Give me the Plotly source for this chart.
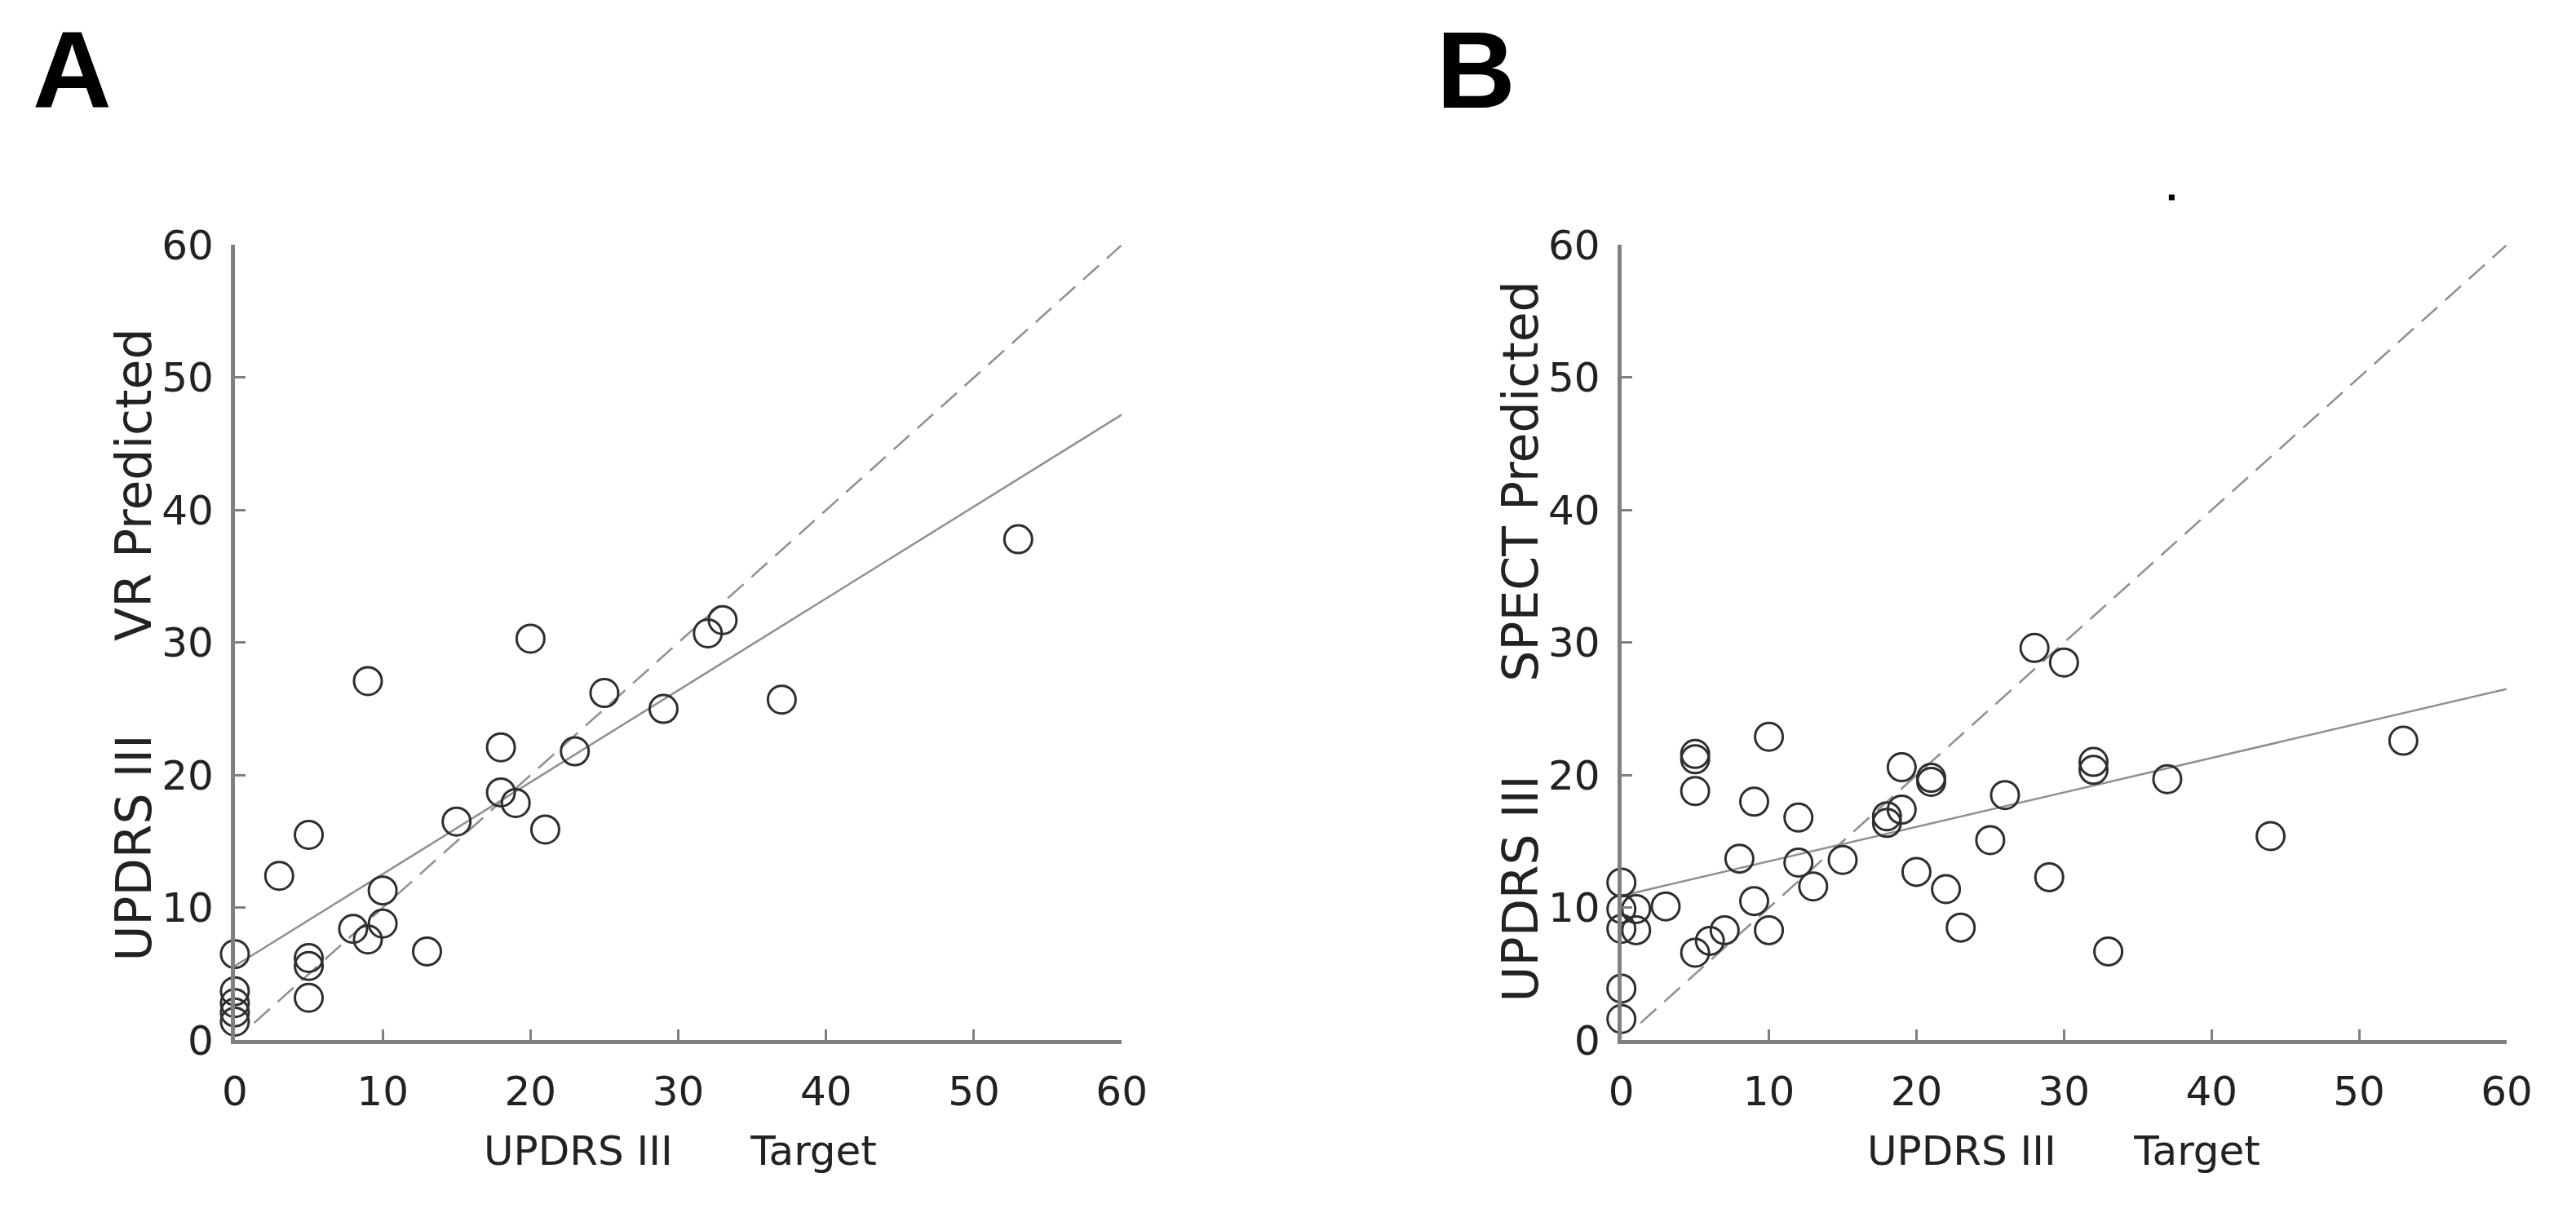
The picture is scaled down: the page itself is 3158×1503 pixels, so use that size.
import plotly.graph_objects as go

# ---------------- data ----------------
# Panel A: UPDRS III target vs VR predicted
a_target = [0, 0, 0, 0, 0, 3, 5, 5, 5, 5, 8, 9, 9, 10, 10, 13, 15, 18, 18, 19,
            20, 21, 23, 25, 29, 32, 33, 37, 53]
a_pred = [6.5, 3.7, 2.8, 2.1, 1.4, 12.4, 15.5, 6.2, 5.6, 3.2, 8.4, 7.6, 27.1, 8.8, 11.3,
          6.7, 16.5, 22.1, 18.7, 17.9, 30.3, 15.9, 21.8, 26.2, 25.0, 30.7, 31.7, 25.7, 37.8]

# Panel B: UPDRS III target vs SPECT predicted
b_target = [0, 0, 0, 0, 0, 1, 1, 3, 5, 5, 5, 5, 6, 7, 8, 9, 9, 10, 10, 12, 12, 13,
            15, 18, 18, 19, 19, 20, 21, 21, 22, 23, 25, 26, 28, 29, 30, 32, 32, 33,
            37, 44, 53]
b_pred = [11.9, 9.9, 8.4, 3.9, 1.6, 9.9, 8.3, 10.1, 21.6, 21.2, 18.8, 6.6, 7.5, 8.3,
          13.7, 18.0, 10.5, 22.9, 8.3, 16.8, 13.4, 11.6, 13.6, 16.9, 16.4, 17.4, 20.6,
          12.7, 19.8, 19.5, 11.4, 8.5, 15.1, 18.5, 29.6, 12.3, 28.5, 21.0, 20.4, 6.7,
          19.7, 15.4, 22.6]

# regression (solid) and identity (dashed) lines
fit_x = [0, 60]
fit_a_y = [5.6, 47.2]
fit_b_y = [10.9, 26.5]
ident_x = [1.3, 60]
ident_y = [1.3, 60]

# stray dot printed above panel B (in panel B data units)
dot_x = [37.3]
dot_y = [63.6]

ticks = [0, 10, 20, 30, 40, 50, 60]
tick_text = ["0", "10", "20", "30", "40", "50", "60"]
panel_labels = ["A", "B"]
x_title = "UPDRS III\u00a0\u00a0\u00a0\u00a0\u00a0\u00a0Target"
y_titles = ["UPDRS III\u00a0\u00a0\u00a0\u00a0\u00a0\u00a0VR Predicted",
            "UPDRS III\u00a0\u00a0\u00a0\u00a0\u00a0\u00a0SPECT Predicted"]

# ---------------- style ----------------
W, H = 3158, 1503
FONT = "DejaVu Sans"
AX_COL = "#808080"
MK_COL = "#2e2e2e"
TXT_COL = "#222222"
LINE_COL = "#8f8f8f"

PLOT_BOTTOM_PX, PLOT_TOP_PX = 1289, 275

fig = go.Figure()

panels = [
    (a_target, a_pred, fit_a_y, "x", "y"),
    (b_target, b_pred, fit_b_y, "x2", "y2"),
]
for tx, py, fy, xa, ya in panels:
    fig.add_trace(go.Scatter(x=ident_x, y=ident_y, xaxis=xa, yaxis=ya, mode="lines",
                             line=dict(color=LINE_COL, width=2.5, dash="26px,13px"),
                             showlegend=False, hoverinfo="skip"))
    fig.add_trace(go.Scatter(x=fit_x, y=fy, xaxis=xa, yaxis=ya, mode="lines",
                             line=dict(color=LINE_COL, width=2.5),
                             showlegend=False, hoverinfo="skip"))
    fig.add_trace(go.Scatter(x=tx, y=py, xaxis=xa, yaxis=ya, mode="markers",
                             marker=dict(symbol="circle-open", size=34, color=MK_COL,
                                         line=dict(width=3, color=MK_COL)),
                             cliponaxis=False, showlegend=False))

# hidden overlay axes (same scale as panel B, extended upward) for the stray dot
fig.add_trace(go.Scatter(x=dot_x, y=dot_y, xaxis="x3", yaxis="y3", mode="markers",
                         marker=dict(symbol="square", size=7, color="#000000"),
                         showlegend=False, hoverinfo="skip"))

x_dom = [[268 / W, 1372 / W], [1994 / W, 3096 / W]]
y_dom = [1 - PLOT_BOTTOM_PX / H, 1 - PLOT_TOP_PX / H]
px_per_unit = (PLOT_BOTTOM_PX - PLOT_TOP_PX) / 60.0
y3_top = PLOT_BOTTOM_PX / px_per_unit

def xaxis(dom, anchor):
    return dict(domain=dom, anchor=anchor, range=[0, 60], tickvals=ticks, ticktext=tick_text,
                showline=True, linecolor=AX_COL, linewidth=5, mirror=False,
                ticks="inside", ticklen=13, tickwidth=3, tickcolor=AX_COL,
                showgrid=False, zeroline=False, ticklabelstandoff=15,
                tickfont=dict(family=FONT, size=50, color=TXT_COL))

def yaxis(anchor):
    return dict(domain=y_dom, anchor=anchor, range=[0, 60], tickvals=ticks, ticktext=tick_text,
                showline=True, linecolor=AX_COL, linewidth=5, mirror=False,
                ticks="inside", ticklen=13, tickwidth=3, tickcolor=AX_COL,
                showgrid=False, zeroline=False, ticklabelstandoff=11,
                tickfont=dict(family=FONT, size=50, color=TXT_COL))

annotations = []
title_x_px = [823, 2545]
ytitle_x_px = [142, 1868]
ytitle_y_px = [785, 781]
label_x_px = [14, 1762]
for i in range(2):
    annotations.append(dict(text=x_title, xref="paper", yref="paper",
                            x=title_x_px[i] / W, y=1 - 1430 / H, xanchor="center", yanchor="middle",
                            showarrow=False, font=dict(family=FONT, size=50, color=TXT_COL)))
    annotations.append(dict(text=y_titles[i], xref="paper", yref="paper", textangle=-90,
                            x=ytitle_x_px[i] / W, y=1 - ytitle_y_px[i] / H,
                            xanchor="center", yanchor="middle",
                            showarrow=False, font=dict(family=FONT, size=60, color=TXT_COL)))
    annotations.append(dict(text="<b>%s</b>" % panel_labels[i], xref="paper", yref="paper",
                            x=label_x_px[i] / W, y=1 - 52 / H, xanchor="left", yanchor="middle",
                            showarrow=False,
                            font=dict(family="Liberation Sans", size=134, color="#000000")))

fig.update_layout(
    width=W, height=H, margin=dict(l=0, r=0, t=0, b=0),
    paper_bgcolor="white", plot_bgcolor="rgba(0,0,0,0)",
    xaxis=xaxis(x_dom[0], "y"), yaxis=yaxis("x"),
    xaxis2=xaxis(x_dom[1], "y2"), yaxis2=yaxis("x2"),
    xaxis3=dict(domain=x_dom[1], anchor="y3", range=[0, 60], visible=False,
                overlaying="x2"),
    yaxis3=dict(domain=[y_dom[0], 1], anchor="x3", range=[0, y3_top], visible=False),
    annotations=annotations, showlegend=False,
)

fig.write_html("out.html")
